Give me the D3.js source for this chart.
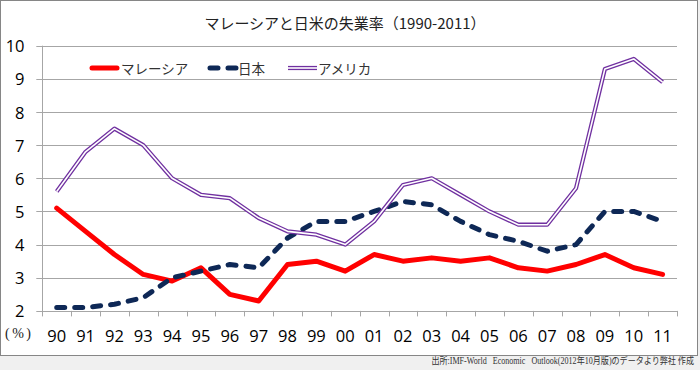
<!DOCTYPE html>
<html>
<head>
<meta charset="utf-8">
<script src="https://cdn.jsdelivr.net/npm/d3@7"></script>
<style>
  html, body { margin: 0; padding: 0; background: #f0f0f0; }
  svg { display: block; }
</style>
</head>
<body>
<svg id="chart" width="700" height="370"></svg>
<script>
const years = ["90", "91", "92", "93", "94", "95", "96", "97", "98", "99", "00",
               "01", "02", "03", "04", "05", "06", "07", "08", "09", "10", "11"];
const malaysia = [5.1, 4.4, 3.7, 3.1, 2.9, 3.3, 2.5, 2.3, 3.4, 3.5, 3.2,
                  3.7, 3.5, 3.6, 3.5, 3.6, 3.3, 3.2, 3.4, 3.7, 3.3, 3.1];
const japan = [2.1, 2.1, 2.2, 2.4, 3.0, 3.2, 3.4, 3.3, 4.2, 4.7, 4.7,
               5.0, 5.3, 5.2, 4.7, 4.3, 4.1, 3.8, 4.0, 5.0, 5.0, 4.7];
const usa = [5.6, 6.8, 7.5, 7.0, 6.0, 5.5, 5.4, 4.8, 4.4, 4.3, 4.0,
             4.7, 5.8, 6.0, 5.5, 5.0, 4.6, 4.6, 5.7, 9.3, 9.6, 8.9];
const yTicks = [2, 3, 4, 5, 6, 7, 8, 9, 10];
const seriesNames = ["マレーシア", "日本", "アメリカ"];

const svg = d3.select("svg#chart");
const plotL = 42.3, plotR = 677, plotT = 45.7, plotB = 310.9;

// chart box
svg.append("rect")
   .attr("x", 0.5).attr("y", 0.5)
   .attr("width", 697).attr("height", 355)
   .attr("fill", "white")
   .attr("stroke", "#868686");

const x = d3.scaleBand().domain(years).range([plotL, plotR]).padding(0);
const y = d3.scaleLinear().domain([2, 10]).range([plotB, plotT]);
const cx = d => x(d) + x.bandwidth() / 2;

// gridlines + y ticks
svg.append("g").selectAll("line")
   .data(yTicks)
   .enter().append("line")
           .attr("x1", plotL - 6).attr("x2", plotR)
           .attr("y1", d => Math.round(y(d)) + 0.5)
           .attr("y2", d => Math.round(y(d)) + 0.5)
           .attr("stroke", "#a6a6a6");

svg.append("g").selectAll("text")
   .data(yTicks)
   .enter().append("text")
           .attr("x", 24.5)
           .attr("y", d => y(d))
           .attr("text-anchor", "end")
           .attr("dominant-baseline", "central")
           .attr("font-family", "'Open Sans', sans-serif")
           .attr("font-size", 16.5)
           .attr("fill", "#000")
           .text(d => d);

// y axis line
svg.append("line")
   .attr("x1", Math.round(plotL) + 0.5).attr("x2", Math.round(plotL) + 0.5)
   .attr("y1", plotT).attr("y2", plotB + 5)
   .attr("stroke", "#a6a6a6");

// x ticks at band boundaries
const bounds = years.map(d => x(d)).concat([x.range()[1]]);
svg.append("g").selectAll("line")
   .data(bounds)
   .enter().append("line")
           .attr("x1", d => Math.round(d) + 0.5).attr("x2", d => Math.round(d) + 0.5)
           .attr("y1", plotB).attr("y2", plotB + 5.5)
           .attr("stroke", "#a6a6a6");

svg.append("g").selectAll("text")
   .data(years)
   .enter().append("text")
           .attr("x", cx)
           .attr("y", 342)
           .attr("text-anchor", "middle")
           .attr("font-family", "'Open Sans', sans-serif")
           .attr("font-size", 16.5)
           .attr("fill", "#000")
           .text(d => d);

svg.append("text")
   .attr("x", 5).attr("y", 338)
   .attr("font-family", "'Liberation Serif', serif")
   .attr("font-size", 14)
   .attr("letter-spacing", 2.5)
   .attr("fill", "#222")
   .text("(%)");

// title
svg.append("text")
   .attr("x", 345).attr("y", 29)
   .attr("text-anchor", "middle")
   .attr("font-family", "'Noto Sans CJK JP', sans-serif")
   .attr("font-size", 15)
   .attr("fill", "#222")
   .text("マレーシアと日米の失業率（1990-2011）");

// lines
const line = d3.line().x((d, i) => cx(years[i])).y(d => y(d));

svg.append("path")
   .datum(malaysia)
   .attr("d", line)
   .attr("fill", "none")
   .attr("stroke", "#ff0000")
   .attr("stroke-width", 5)
   .attr("stroke-linejoin", "round")
   .attr("stroke-linecap", "round");

svg.append("path")
   .datum(japan)
   .attr("d", line)
   .attr("fill", "none")
   .attr("stroke", "#0e2856")
   .attr("stroke-width", 5)
   .attr("stroke-dasharray", "8,10")
   .attr("stroke-linejoin", "round")
   .attr("stroke-linecap", "round");

svg.append("path")
   .datum(usa)
   .attr("d", line)
   .attr("fill", "none")
   .attr("stroke", "#7030a0")
   .attr("stroke-width", 4.2)
   .attr("stroke-linejoin", "round");
svg.append("path")
   .datum(usa)
   .attr("d", line)
   .attr("fill", "none")
   .attr("stroke", "white")
   .attr("stroke-width", 1.6)
   .attr("stroke-linejoin", "round");

// legend
const legendX = [90, 207, 287];
const legendY = 68;
const lg = svg.append("g");
lg.append("line")
  .attr("x1", legendX[0] + 2).attr("x2", legendX[0] + 27)
  .attr("y1", legendY).attr("y2", legendY)
  .attr("stroke", "#ff0000").attr("stroke-width", 5)
  .attr("stroke-linecap", "round");
lg.append("line")
  .attr("x1", legendX[1] + 3).attr("x2", legendX[1] + 30)
  .attr("y1", legendY).attr("y2", legendY)
  .attr("stroke", "#0e2856").attr("stroke-width", 5)
  .attr("stroke-dasharray", "8,10")
  .attr("stroke-linecap", "round");
lg.append("line")
  .attr("x1", legendX[2] + 1).attr("x2", legendX[2] + 30)
  .attr("y1", legendY).attr("y2", legendY)
  .attr("stroke", "#7030a0").attr("stroke-width", 4.2);
lg.append("line")
  .attr("x1", legendX[2] + 1).attr("x2", legendX[2] + 30)
  .attr("y1", legendY).attr("y2", legendY)
  .attr("stroke", "white").attr("stroke-width", 1.6);

lg.selectAll("text")
  .data(seriesNames)
  .enter().append("text")
          .attr("x", (d, i) => legendX[i] + 31)
          .attr("y", legendY)
          .attr("dominant-baseline", "central")
          .attr("font-family", "'Noto Sans CJK JP', sans-serif")
          .attr("font-size", 13.5)
          .attr("fill", "#333")
          .text(d => d);

// source note (condensed like the original)
svg.append("g")
   .attr("transform", "translate(694, 364) scale(0.85, 1)")
   .append("text")
   .attr("text-anchor", "end")
   .attr("font-family", "'Liberation Serif', 'Noto Sans CJK JP', serif")
   .attr("font-size", 9.5)
   .attr("fill", "#333")
   .style("white-space", "pre")
   .text("出所:IMF-World   Economic   Outlook(2012年10月版)のデータより弊社 作成");
</script>
</body>
</html>
